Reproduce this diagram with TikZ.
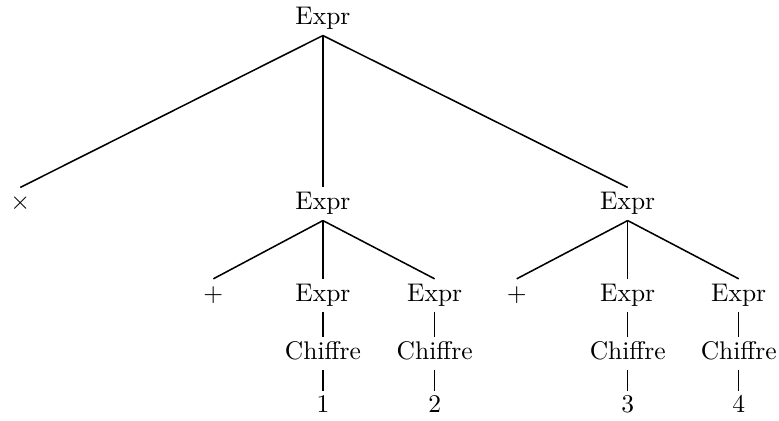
\documentclass[tikz,border=0pt]{standalone}
\usepackage{amsmath,amssymb}
\usepackage{tikz}
\tikzset{treenode/.style={inner sep=2pt, text height=1.5ex, text depth=.45ex}}

\begin{document}
\begin{tikzpicture}[every node/.style={treenode}, line width=0.6pt]
    \useasboundingbox (0,0) rectangle (10.735,5.801);
    \node (1) at (4.45,5.54) {Expr};
    \node (21) at (0.28,2.99) {$\times$};
    \node (22) at (4.45,2.99) {Expr};
    \node (23) at (8.65,2.99) {Expr};
    \node (31) at (2.94,1.73) {$+$};
    \node (32) at (4.45,1.73) {Expr};
    \node (33) at (5.99,1.73) {Expr};
    \node (34) at (7.12,1.73) {$+$};
    \node (35) at (8.65,1.73) {Expr};
    \node (36) at (10.18,1.73) {Expr};
    \node (41) at (4.45,0.93) {Chiffre};
    \node (42) at (5.99,0.93) {Chiffre};
    \node (43) at (8.65,0.93) {Chiffre};
    \node (44) at (10.18,0.93) {Chiffre};
    \node (51) at (4.45,0.19) {1};
    \node (52) at (5.99,0.19) {2};
    \node (53) at (8.65,0.19) {3};
    \node (54) at (10.18,0.19) {4};
    % root
    \draw (1.south) -- (21.north);
    \draw (1.south) -- (22.north);
    \draw (1.south) -- (23.north);
    % second level
    \draw (22.south) -- (31.north);
    \draw (22.south) -- (32.north);
    \draw (22.south) -- (33.north);
    \draw (23.south) -- (34.north);
    \draw (23.south) -- (35.north);
    \draw (23.south) -- (36.north);
    % digits
    \draw (32.south) -- (41.north);
    \draw (33.south) -- (42.north);
    \draw (35.south) -- (43.north);
    \draw (36.south) -- (44.north);
    \draw (41.south) -- (51.north);
    \draw (42.south) -- (52.north);
    \draw (43.south) -- (53.north);
    \draw (44.south) -- (54.north);
\end{tikzpicture}
\end{document}
